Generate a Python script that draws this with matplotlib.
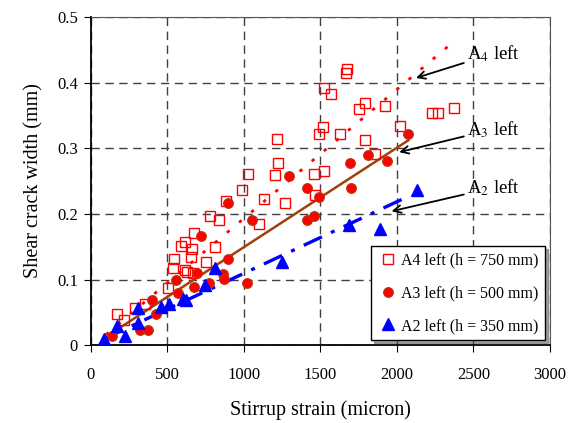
import matplotlib
matplotlib.use("Agg")
import matplotlib.pyplot as plt
import numpy as np

# A4 left (h = 750 mm)
a4_strain = [174, 215, 291, 353, 507, 540, 545, 590, 616, 616, 630, 660, 655, 677, 670,
             751, 782, 812, 836, 886, 990, 1030, 1097, 1130, 1204, 1219, 1225, 1272,
             1461, 1463, 1491, 1515, 1526, 1526, 1568, 1629, 1668, 1676, 1755, 1794,
             1794, 1860, 1922, 2020, 2230, 2271, 2373]
a4_width = [0.047, 0.038, 0.056, 0.063, 0.087, 0.118, 0.132, 0.151, 0.157, 0.115, 0.112,
            0.147, 0.134, 0.171, 0.110, 0.127, 0.196, 0.149, 0.191, 0.219, 0.237, 0.261,
            0.184, 0.222, 0.259, 0.314, 0.277, 0.217, 0.261, 0.228, 0.321, 0.333, 0.391,
            0.266, 0.382, 0.322, 0.414, 0.420, 0.360, 0.369, 0.312, 0.291, 0.364, 0.334,
            0.354, 0.354, 0.362]

# A3 left (h = 500 mm)
a3_strain = [138, 321, 375, 402, 429, 560, 571, 676, 696, 719, 773, 862, 873, 895, 895,
             1019, 1053, 1295, 1415, 1415, 1461, 1490, 1695, 1703, 1814, 1938, 2075]
a3_width = [0.014, 0.023, 0.023, 0.069, 0.047, 0.099, 0.080, 0.089, 0.110, 0.166, 0.095,
            0.109, 0.101, 0.131, 0.216, 0.094, 0.190, 0.258, 0.239, 0.190, 0.197, 0.225,
            0.278, 0.240, 0.289, 0.280, 0.322]

# A2 left (h = 350 mm)
a2_strain = [87, 172, 223, 310, 308, 462, 512, 604, 620, 749, 814, 1248, 1687, 1890, 2129]
a2_width = [0.009, 0.029, 0.014, 0.056, 0.034, 0.058, 0.063, 0.071, 0.069, 0.092, 0.117,
            0.126, 0.183, 0.177, 0.236]

# linear trend lines (end points)
a4_fit_x = [100, 2370]
a4_fit_y = [0.016, 0.462]
a3_fit_x = [115, 2075]
a3_fit_y = [0.015, 0.312]
a2_fit_x = [91, 2042]
a2_fit_y = [0.010, 0.223]

plt.rcParams['font.family'] = ['Liberation Serif', 'DejaVu Serif']
plt.rcParams['mathtext.fontset'] = 'stix'

fig = plt.figure(figsize=(5.77, 4.23), dpi=100)
ax = fig.add_axes([0.157, 0.184, 0.796, 0.776])

ax.plot(a4_fit_x, a4_fit_y, color='red', linestyle=(0, (1.2, 4.5)), linewidth=2.0, zorder=2)
ax.plot(a3_fit_x, a3_fit_y, color='#a0400a', linestyle='-', linewidth=1.8, zorder=2)
ax.plot(a2_fit_x, a2_fit_y, color='blue', linestyle=(0, (6, 3, 1.2, 3)), linewidth=2.4, zorder=2)

ax.plot(a4_strain, a4_width, linestyle='none', marker='s', markersize=7,
        markerfacecolor='none', markeredgecolor='red', markeredgewidth=1.0,
        label='A4 left (h = 750 mm)', zorder=3)
ax.plot(a3_strain, a3_width, linestyle='none', marker='o', markersize=7,
        markerfacecolor='#ff0000', markeredgecolor='#b03a10', markeredgewidth=0.8,
        label='A3 left (h = 500 mm)', zorder=4)
ax.plot(a2_strain, a2_width, linestyle='none', marker='^', markersize=8,
        markerfacecolor='blue', markeredgecolor='blue',
        label='A2 left (h = 350 mm)', zorder=4)

ax.set_xlim(0, 3000)
ax.set_ylim(0, 0.5)
ax.set_xticks(np.arange(0, 3001, 500))
ax.set_yticks(np.arange(0, 0.51, 0.1))
ax.set_yticklabels(['0', '0.1', '0.2', '0.3', '0.4', '0.5'])
ax.tick_params(direction='out', length=5, labelsize=12, pad=4)
ax.tick_params(axis='x', pad=11)
ax.grid(True, color='#404040', linestyle=(0, (6, 4)), linewidth=1.0)
ax.set_axisbelow(True)
for side in ['left', 'bottom']:
    ax.spines[side].set_linewidth(1.3)
for side in ['top', 'right']:
    ax.spines[side].set_color('#555555')

ax.set_xlabel('Stirrup strain (micron)', fontsize=14.5, labelpad=12)
ax.set_ylabel('Shear crack width (mm)', fontsize=14.5, labelpad=10)

# labels with arrows pointing at the trend lines
ax.annotate(r'A$_4$ left', xy=(2125, 0.407), xytext=(2456, 0.428),
            fontsize=13.5, va='bottom', ha='left',
            arrowprops=dict(arrowstyle='->', color='black', lw=1.3, shrinkA=0, shrinkB=0))
ax.annotate(r'A$_3$ left', xy=(2016, 0.294), xytext=(2456, 0.313),
            fontsize=13.5, va='bottom', ha='left',
            arrowprops=dict(arrowstyle='->', color='black', lw=1.3, shrinkA=0, shrinkB=0))
ax.annotate(r'A$_2$ left', xy=(1966, 0.204), xytext=(2456, 0.224),
            fontsize=13.5, va='bottom', ha='left',
            arrowprops=dict(arrowstyle='->', color='black', lw=1.3, shrinkA=0, shrinkB=0))

leg = ax.legend(loc='lower right', fontsize=11.5, frameon=True, fancybox=False,
                shadow=True, edgecolor='black', framealpha=1, labelspacing=1.05,
                handletextpad=0.1, handlelength=1.4, borderaxespad=0.3)
leg.get_frame().set_linewidth(1.0)

fig.savefig('out.png', dpi=100)
